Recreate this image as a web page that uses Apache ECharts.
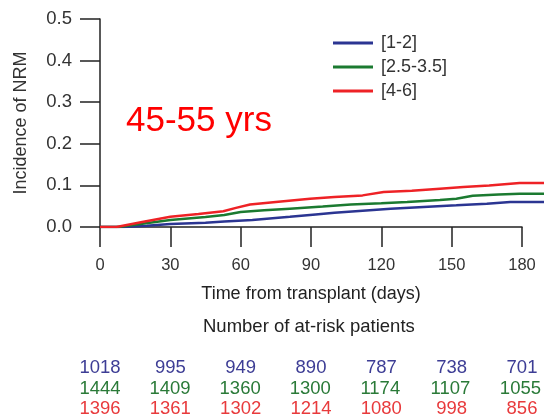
<!DOCTYPE html>
<html><head><meta charset="utf-8">
<script src="https://cdn.jsdelivr.net/npm/echarts@6/dist/echarts.min.js"></script>
<style>html,body{margin:0;padding:0;background:#fff}#c{width:544px;height:417px}</style>
</head><body><div id="c"></div>
<script>
const xTicks = [0, 30, 60, 90, 120, 150, 180];
const yTicks = [0, 0.1, 0.2, 0.3, 0.4, 0.5];
const groupNames = ['[1-2]', '[2.5-3.5]', '[4-6]'];
const blueCurve = [[0,0],[10,0],[20,0.003],[30,0.007],[45,0.01],[53,0.013],[65,0.017],[81,0.0245],[92,0.03],[100,0.034],[109,0.038],[124,0.044],[138,0.048],[152,0.052],[165,0.056],[175,0.06],[189.4,0.06]];
const greenCurve = [[0,0],[8,0],[18,0.008],[30,0.0167],[45,0.024],[53,0.0286],[60,0.036],[70,0.04],[81,0.044],[95,0.049],[107,0.054],[120,0.057],[131,0.06],[145,0.065],[152,0.068],[159,0.075],[170,0.078],[179,0.08],[189.4,0.08]];
const redCurve = [[0,0],[7,0],[18,0.012],[30,0.0245],[42,0.031],[52.6,0.038],[58,0.046],[64,0.054],[75,0.06],[89.6,0.068],[100,0.072],[112,0.076],[121,0.084],[133,0.087],[145,0.092],[155,0.096],[166,0.1],[179,0.106],[189.4,0.106]];
const atRiskBlue = [1018, 995, 949, 890, 787, 738, 701];
const atRiskGreen = [1444, 1409, 1360, 1300, 1174, 1107, 1055];
const atRiskRed = [1396, 1361, 1302, 1214, 1080, 998, 856];
const colors = ['#2b3592', '#1b7a30', '#ee2226'];
const riskColors = ['#3d3d95', '#2a7a38', '#e83a3c'];

const FONT = 'Liberation Sans';
const chart = echarts.init(document.getElementById('c'));
const riskRows = [atRiskBlue, atRiskGreen, atRiskRed];
const riskTops = [357, 378, 399];
// grid 0: visible axes (0..180); grid 1: same scale extended to the right edge for the curves
const grids = [
  {left: 100, right: 22, top: 19, bottom: 190},
  {left: 100, right: 0, top: 19, bottom: 190}
];
const xAxes = [{
  gridIndex: 0, type: 'value', min: 0, max: 180, interval: 30,
  name: 'Time from transplant (days)', nameLocation: 'middle', nameGap: 58,
  nameTextStyle: {fontFamily: FONT, fontSize: 18, color: '#222'},
  axisLine: {lineStyle: {color: '#222', width: 1.5}},
  axisTick: {inside: false, length: 20, lineStyle: {color: '#222', width: 1.5}},
  axisLabel: {margin: 30, fontFamily: FONT, fontSize: 16.5, color: '#333', showMaxLabel: true},
  splitLine: {show: false}
}, {
  gridIndex: 1, type: 'value', min: 0, max: 189.4, show: false
}];
const yAxes = [{
  gridIndex: 0, type: 'value', min: 0, max: 0.5, interval: 0.1,
  name: 'Incidence of NRM', nameLocation: 'middle', nameGap: 70,
  nameTextStyle: {fontFamily: FONT, fontSize: 18, color: '#333'},
  axisLine: {show: true, lineStyle: {color: '#222', width: 1.5}},
  axisTick: {show: true, length: 20, lineStyle: {color: '#222', width: 1.5}},
  axisLabel: {margin: 28, fontFamily: FONT, fontSize: 18.5, color: '#333', formatter: v => v.toFixed(1)},
  splitLine: {show: false}
}, {
  gridIndex: 1, type: 'value', min: 0, max: 0.5, show: false
}];
riskRows.forEach((row, i) => {
  grids.push({left: 100, right: 22, top: riskTops[i], height: 1});
  xAxes.push({
    gridIndex: i + 2, type: 'value', min: 0, max: 180, interval: 30,
    axisLine: {show: false}, axisTick: {show: false}, splitLine: {show: false},
    axisLabel: {margin: 0, fontFamily: FONT, fontSize: 18.5, color: riskColors[i], showMaxLabel: true,
      formatter: v => { const k = xTicks.indexOf(v); return k >= 0 ? String(row[k]) : ''; }}
  });
  yAxes.push({gridIndex: i + 2, type: 'value', show: false, min: 0, max: 1});
});
const curves = [blueCurve, greenCurve, redCurve];
chart.setOption({
  animation: false,
  backgroundColor: '#fff',
  grid: grids, xAxis: xAxes, yAxis: yAxes,
  legend: {
    orient: 'vertical', left: 328, top: 29, itemWidth: 40, itemHeight: 3, itemGap: 6,
    icon: 'rect', data: groupNames,
    textStyle: {fontFamily: FONT, fontSize: 18, color: '#333', padding: [0, 0, 0, 3]}
  },
  graphic: [
    {type: 'text', left: 126, top: 104, style: {text: '45-55 yrs', fontFamily: FONT, fontSize: 35, fill: '#ff0000'}},
    {type: 'text', left: 203, top: 317, style: {text: 'Number of at-risk patients', fontFamily: FONT, fontSize: 18.5, fill: '#222'}}
  ],
  series: curves.map((c, i) => ({
    name: groupNames[i], type: 'line', xAxisIndex: 1, yAxisIndex: 1, data: c,
    symbol: 'none', step: false,
    lineStyle: {color: colors[i], width: 2.5}, itemStyle: {color: colors[i]}, z: 3 + i
  }))
});
</script></body></html>
